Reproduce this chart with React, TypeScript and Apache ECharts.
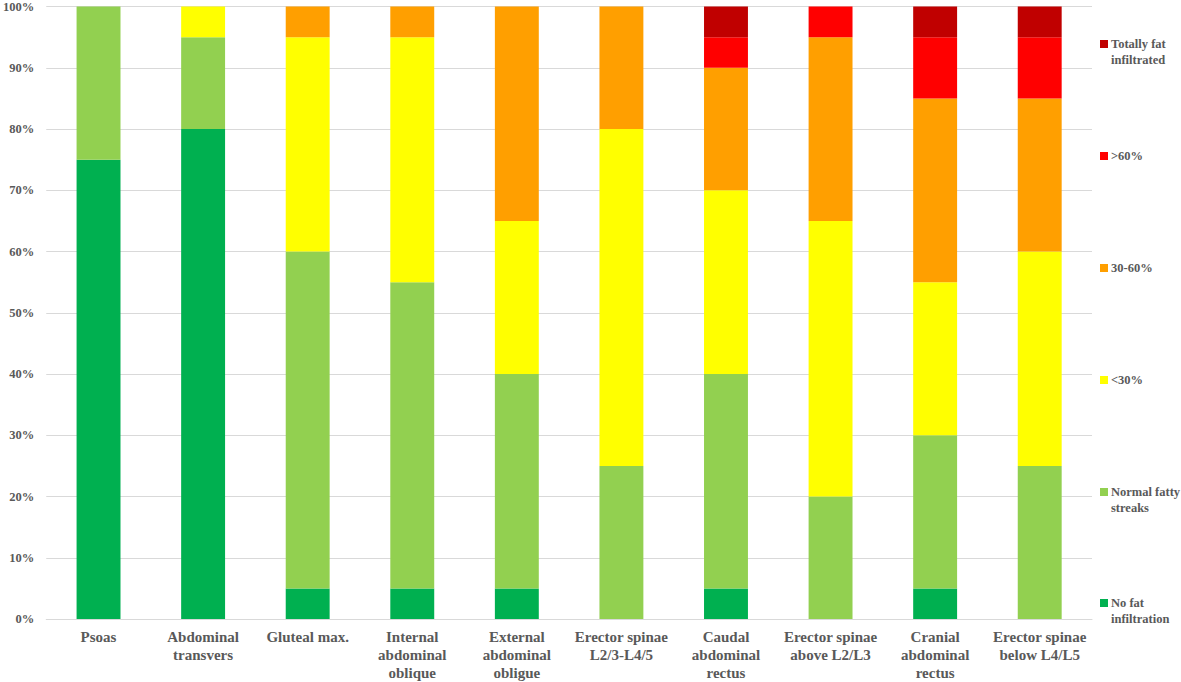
import React, { useEffect, useRef } from "react";
import * as echarts from "echarts";

const categories = [
  "Psoas",
  "Abdominal\ntransvers",
  "Gluteal max.",
  "Internal\nabdominal\noblique",
  "External\nabdominal\nobligue",
  "Erector spinae\nL2/3-L4/5",
  "Caudal\nabdominal\nrectus",
  "Erector spinae\nabove L2/L3",
  "Cranial\nabdominal\nrectus",
  "Erector spinae\nbelow L4/L5",
];

const noFat = [75, 80, 5, 5, 5, 0, 5, 0, 5, 0];
const normalFatty = [25, 15, 55, 50, 35, 25, 35, 20, 25, 25];
const under30 = [0, 5, 35, 40, 25, 55, 30, 45, 25, 35];
const from30to60 = [0, 0, 5, 5, 35, 20, 20, 30, 30, 25];
const over60 = [0, 0, 0, 0, 0, 0, 5, 5, 10, 10];
const totallyFat = [0, 0, 0, 0, 0, 0, 5, 0, 5, 5];

const seriesNames = [
  "No fat\ninfiltration",
  "Normal fatty\nstreaks",
  "<30%",
  "30-60%",
  ">60%",
  "Totally fat\ninfiltrated",
];
const seriesData = [noFat, normalFatty, under30, from30to60, over60, totallyFat];
const seriesColors = ["#00B050", "#92D050", "#FFFF00", "#FF9F00", "#FF0000", "#C00000"];
const legendTops = [595, 484, 372, 260, 148, 36];

const FONT = "Liberation Serif";
const TEXT = "#595959";
const TOP_SQUARE_ICON = "path://M0,0L8,0L8,8L0,8ZM0,24Z";

export default function App() {
  const ref = useRef<HTMLDivElement>(null);
  useEffect(() => {
    if (!ref.current) return;
    const chart = echarts.init(ref.current, undefined, { renderer: "svg" });
    chart.setOption({
      animation: false,
      backgroundColor: "#ffffff",
      textStyle: { fontFamily: FONT },
      grid: { left: 43, right: 89, top: 5, bottom: 61 },
      legend: seriesNames.map((n, i) => {
        const twoLine = n.indexOf("\n") >= 0;
        return {
          data: [n],
          orient: "vertical",
          left: 1100,
          top: legendTops[i],
          padding: 0,
          itemWidth: 8,
          itemHeight: twoLine ? 24 : 8,
          itemGap: 5,
          icon: twoLine ? TOP_SQUARE_ICON : "rect",
          selectedMode: false,
          textStyle: {
            fontFamily: FONT,
            fontWeight: "bold",
            fontSize: 12.5,
            lineHeight: 16,
            color: TEXT,
            padding: [0, 0, 0, -2],
          },
        };
      }),
      xAxis: {
        type: "category",
        data: categories,
        axisLine: { lineStyle: { color: "#D9D9D9" } },
        axisTick: { show: false },
        axisLabel: {
          interval: 0,
          fontFamily: FONT,
          fontWeight: "bold",
          fontSize: 15,
          lineHeight: 18,
          color: TEXT,
          margin: 9,
        },
      },
      yAxis: {
        type: "value",
        min: 0,
        max: 100,
        interval: 10,
        axisLine: { show: false },
        axisTick: { show: false },
        splitLine: { lineStyle: { color: "#D9D9D9" } },
        axisLabel: {
          formatter: "{value}%",
          fontFamily: FONT,
          fontWeight: "bold",
          fontSize: 12.5,
          color: TEXT,
          margin: 12,
        },
      },
      series: seriesNames.map((n, i) => ({
        name: n,
        type: "bar",
        stack: "total",
        barWidth: "42%",
        data: seriesData[i],
        itemStyle: { color: seriesColors[i] },
      })),
    });
    return () => chart.dispose();
  }, []);
  return (
    <div
      ref={ref}
      style={{ position: "fixed", left: 0, top: 0, width: 1181, height: 682 }}
    />
  );
}
